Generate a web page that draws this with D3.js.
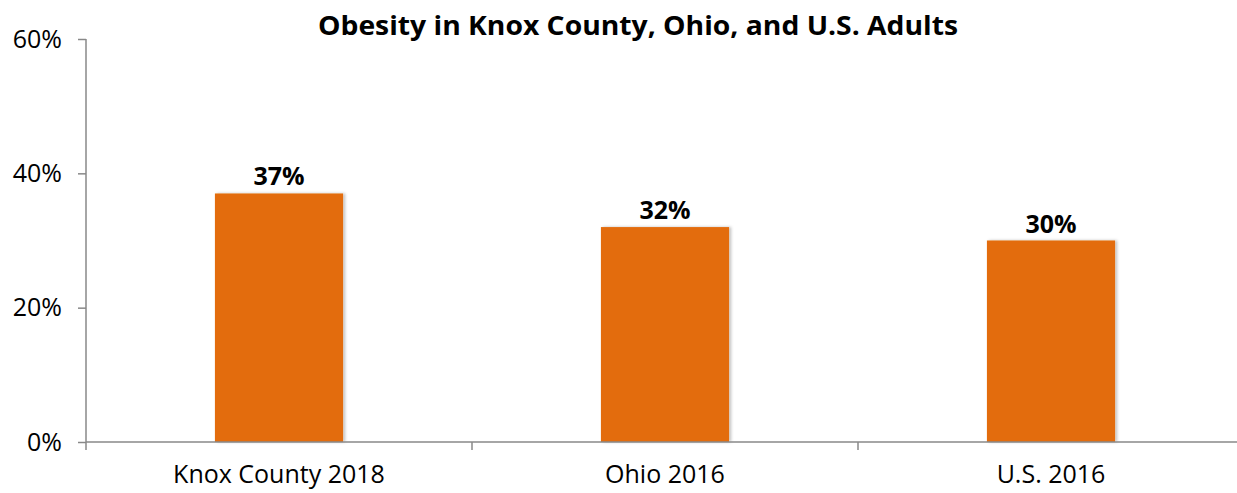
<!DOCTYPE html>
<html><head><meta charset="utf-8">
<script src="https://cdn.jsdelivr.net/npm/d3@7/dist/d3.min.js"></script>
<style>body{margin:0;background:#fff;overflow:hidden}svg{display:block}</style>
</head><body><svg id="c" width="1237" height="493"></svg>
<script>
const categories = ["Knox County 2018", "Ohio 2016", "U.S. 2016"];
const values = [37, 32, 30];
const yTicks = [0, 20, 40, 60];
const title = "Obesity in Knox County, Ohio, and U.S. Adults";

const svg = d3.select("#c");
const font = "'Open Sans', 'Noto Sans', sans-serif";
const x = d3.scaleBand().domain(categories).range([86, 1244]).paddingInner(0).paddingOuter(0);
const y = d3.scaleLinear().domain([0, 60]).range([442, 39]);
const barW = x.bandwidth() * 0.332;

const defs = svg.append("defs");
const f = defs.append("filter").attr("id", "sh").attr("x", "-10%").attr("y", "-10%").attr("width", "130%").attr("height", "120%");
f.append("feDropShadow").attr("dx", 2).attr("dy", 0).attr("stdDeviation", 1.5).attr("flood-color", "#000").attr("flood-opacity", 0.25);

svg.append("text").attr("x", 638).attr("y", 35).attr("text-anchor", "middle")
  .attr("font-family", font).attr("font-weight", "bold").attr("font-size", 27.5)
  .attr("textLength", 640).attr("lengthAdjust", "spacingAndGlyphs").text(title);

// bars
svg.selectAll("rect.bar").data(values).enter().append("rect").attr("class", "bar")
  .attr("x", (d, i) => x(categories[i]) + (x.bandwidth() - barW) / 2)
  .attr("width", barW)
  .attr("y", d => y(d)).attr("height", d => y(0) - y(d))
  .attr("fill", "#E36C0A").attr("filter", "url(#sh)");

svg.selectAll("text.lbl").data(values).enter().append("text").attr("class", "lbl")
  .attr("x", (d, i) => x(categories[i]) + x.bandwidth() / 2)
  .attr("y", d => y(d) - 8).attr("text-anchor", "middle")
  .attr("font-family", font).attr("font-weight", "bold").attr("font-size", 25)
  .text(d => d + "%");

// y axis
const yAxis = d3.axisLeft(y).tickValues(yTicks).tickFormat(d => d + "%").tickSize(8).tickPadding(6);
const gy = svg.append("g").attr("transform", "translate(86,0)").call(yAxis);
gy.select(".domain").attr("stroke", "#888").attr("stroke-width", 1.5).attr("d", "M0,39V442");
gy.selectAll(".tick line").attr("stroke", "#888").attr("stroke-width", 1.5);
gy.selectAll(".tick text").attr("font-family", font).attr("font-size", 25).attr("fill", "#000").attr("x", -24);

// x axis
const gx = svg.append("g").attr("transform", "translate(0,442)");
gx.append("line").attr("x1", 86).attr("x2", 1244).attr("y1", 0).attr("y2", 0).attr("stroke", "#888").attr("stroke-width", 1.5);
const bounds = categories.map(c => x(c)).concat([x.range()[1]]);
gx.selectAll("line.t").data(bounds).enter().append("line").attr("class", "t")
  .attr("x1", d => d).attr("x2", d => d).attr("y1", 0).attr("y2", 8).attr("stroke", "#888").attr("stroke-width", 1.5);
gx.selectAll("text").data(categories).enter().append("text")
  .attr("x", c => x(c) + x.bandwidth() / 2).attr("y", 41).attr("text-anchor", "middle")
  .attr("font-family", font).attr("font-size", 25).attr("fill", "#000").text(c => c);
</script></body></html>
